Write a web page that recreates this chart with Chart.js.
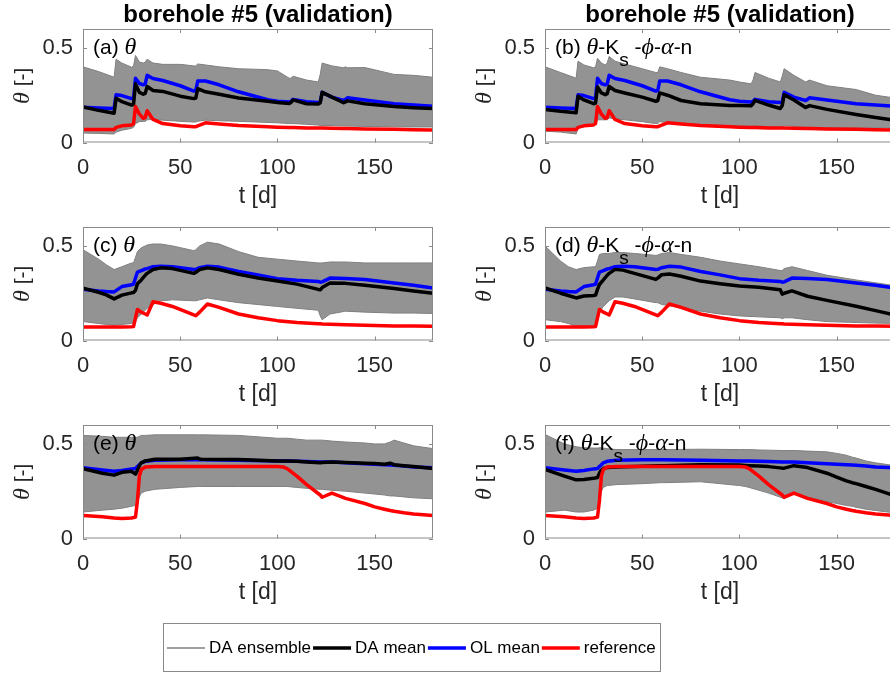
<!DOCTYPE html>
<html>
<head>
<meta charset="utf-8">
<script src="https://cdn.jsdelivr.net/npm/chart.js@4.4.0/dist/chart.umd.min.js"></script>
<style>
  html, body { margin: 0; padding: 0; background: #ffffff; overflow: hidden; }
  #fig { position: relative; width: 890px; height: 673px; overflow: hidden; background: #ffffff; }
  #fig canvas { position: absolute; }
</style>
</head>
<body>
<div id="fig">
  <canvas id="cA" width="445" height="220" style="left:0px;top:0px"></canvas>
  <canvas id="cB" width="460" height="220" style="left:445px;top:0px"></canvas>
  <canvas id="cC" width="445" height="220" style="left:0px;top:198px"></canvas>
  <canvas id="cD" width="460" height="220" style="left:445px;top:198px"></canvas>
  <canvas id="cE" width="445" height="220" style="left:0px;top:396px"></canvas>
  <canvas id="cF" width="460" height="220" style="left:445px;top:396px"></canvas>
  <canvas id="cLeg" width="498" height="49" style="left:163px;top:623px"></canvas>
</div>
<script>
// ---------- time axes (days) ----------
const daysTop = [0, 8, 16, 17, 20, 25, 26, 27, 29, 31, 32, 33, 36, 41, 50, 57, 58, 59, 63, 70, 80, 95, 100, 106, 107, 108, 115, 121, 122, 123, 128, 134, 135, 136, 145, 160, 170, 180];
const daysMid = [0, 8, 12, 16, 20, 25, 26, 27, 28, 30, 32, 33, 36, 40, 46, 57, 58, 60, 64, 70, 80, 90, 100, 110, 121, 122, 123, 127, 135, 145, 160, 170, 180];
const daysLow = [0, 10, 16, 20, 25, 27, 28, 29, 30, 32, 37, 50, 59, 60, 61, 80, 100, 103, 105, 110, 115, 122, 123, 128, 135, 145, 150, 155, 158, 160, 165, 170, 180];

// ---------- tick labels ----------
const xTicks = [0, 50, 100, 150];
const yTicks = [0, 0.5];

// ---------- top row: reference and open-loop mean ----------
const refTop = [0.069, 0.069, 0.069, 0.080, 0.088, 0.093, 0.100, 0.190, 0.150, 0.128, 0.132, 0.168, 0.122, 0.100, 0.088, 0.083, 0.083, 0.088, 0.104, 0.098, 0.090, 0.083, 0.081, 0.079, 0.079, 0.079, 0.077, 0.076, 0.076, 0.076, 0.075, 0.074, 0.074, 0.074, 0.072, 0.070, 0.068, 0.066];
const olTop  = [0.186, 0.183, 0.180, 0.252, 0.248, 0.232, 0.235, 0.340, 0.312, 0.305, 0.310, 0.355, 0.338, 0.328, 0.300, 0.272, 0.275, 0.325, 0.325, 0.305, 0.268, 0.226, 0.218, 0.214, 0.218, 0.228, 0.215, 0.212, 0.215, 0.265, 0.240, 0.222, 0.228, 0.236, 0.225, 0.205, 0.198, 0.192];
// (a) state update
const daA = [0.188, 0.170, 0.155, 0.234, 0.216, 0.198, 0.202, 0.310, 0.265, 0.255, 0.260, 0.296, 0.275, 0.270, 0.245, 0.232, 0.235, 0.285, 0.268, 0.255, 0.235, 0.218, 0.212, 0.206, 0.212, 0.225, 0.205, 0.203, 0.210, 0.265, 0.240, 0.210, 0.215, 0.220, 0.205, 0.190, 0.184, 0.180];
const ensHiA = [0.400, 0.375, 0.345, 0.440, 0.420, 0.398, 0.405, 0.460, 0.425, 0.420, 0.425, 0.440, 0.420, 0.413, 0.413, 0.405, 0.405, 0.415, 0.410, 0.400, 0.390, 0.385, 0.378, 0.340, 0.340, 0.350, 0.330, 0.320, 0.360, 0.420, 0.405, 0.395, 0.400, 0.395, 0.396, 0.360, 0.355, 0.345];
const ensLoA = [0.050, 0.048, 0.045, 0.055, 0.065, 0.075, 0.080, 0.100, 0.110, 0.112, 0.112, 0.120, 0.122, 0.118, 0.112, 0.108, 0.108, 0.112, 0.118, 0.115, 0.112, 0.106, 0.104, 0.100, 0.100, 0.100, 0.096, 0.092, 0.090, 0.090, 0.090, 0.087, 0.087, 0.087, 0.085, 0.083, 0.082, 0.082];
// (b) joint state-parameter update
const daB = [0.175, 0.165, 0.157, 0.244, 0.225, 0.205, 0.208, 0.293, 0.262, 0.253, 0.258, 0.296, 0.275, 0.262, 0.240, 0.218, 0.222, 0.262, 0.250, 0.222, 0.205, 0.196, 0.196, 0.194, 0.205, 0.223, 0.198, 0.180, 0.195, 0.253, 0.225, 0.185, 0.190, 0.195, 0.175, 0.148, 0.132, 0.118];
const ensHiB = [0.400, 0.370, 0.340, 0.430, 0.410, 0.395, 0.400, 0.445, 0.420, 0.410, 0.420, 0.455, 0.430, 0.415, 0.390, 0.370, 0.370, 0.400, 0.390, 0.370, 0.345, 0.330, 0.320, 0.310, 0.330, 0.370, 0.340, 0.320, 0.350, 0.390, 0.355, 0.320, 0.325, 0.330, 0.300, 0.280, 0.250, 0.235];
const ensLoB = [0.060, 0.055, 0.045, 0.075, 0.085, 0.090, 0.095, 0.120, 0.120, 0.120, 0.120, 0.130, 0.125, 0.120, 0.110, 0.100, 0.100, 0.110, 0.105, 0.100, 0.095, 0.090, 0.088, 0.085, 0.086, 0.090, 0.085, 0.082, 0.083, 0.090, 0.085, 0.080, 0.080, 0.080, 0.079, 0.078, 0.077, 0.076];

// ---------- middle row ----------
const refMid = [0.072, 0.072, 0.072, 0.072, 0.072, 0.073, 0.074, 0.120, 0.164, 0.150, 0.140, 0.135, 0.205, 0.197, 0.180, 0.135, 0.131, 0.150, 0.193, 0.175, 0.140, 0.120, 0.105, 0.095, 0.088, 0.088, 0.087, 0.086, 0.083, 0.080, 0.077, 0.076, 0.075];
const olMid  = [0.271, 0.262, 0.259, 0.257, 0.285, 0.295, 0.298, 0.330, 0.362, 0.370, 0.378, 0.380, 0.390, 0.392, 0.390, 0.375, 0.376, 0.385, 0.392, 0.388, 0.365, 0.347, 0.327, 0.318, 0.312, 0.308, 0.310, 0.330, 0.328, 0.322, 0.304, 0.292, 0.277];
// (c)
const daC = [0.277, 0.255, 0.241, 0.220, 0.240, 0.252, 0.254, 0.265, 0.300, 0.320, 0.345, 0.355, 0.375, 0.384, 0.380, 0.355, 0.360, 0.375, 0.384, 0.375, 0.350, 0.330, 0.315, 0.298, 0.270, 0.268, 0.280, 0.304, 0.302, 0.292, 0.275, 0.262, 0.250];
const ensHiC = [0.480, 0.430, 0.400, 0.375, 0.390, 0.410, 0.410, 0.440, 0.470, 0.490, 0.500, 0.505, 0.510, 0.510, 0.500, 0.475, 0.480, 0.500, 0.520, 0.510, 0.470, 0.440, 0.430, 0.420, 0.410, 0.410, 0.410, 0.415, 0.415, 0.410, 0.410, 0.410, 0.410];
const ensLoC = [0.100, 0.090, 0.085, 0.080, 0.085, 0.090, 0.095, 0.100, 0.120, 0.140, 0.160, 0.170, 0.190, 0.210, 0.215, 0.210, 0.210, 0.215, 0.225, 0.215, 0.200, 0.190, 0.180, 0.170, 0.160, 0.130, 0.110, 0.140, 0.155, 0.150, 0.145, 0.145, 0.143];
// (d)
const daD = [0.278, 0.250, 0.238, 0.225, 0.235, 0.238, 0.240, 0.270, 0.296, 0.320, 0.345, 0.355, 0.376, 0.372, 0.355, 0.323, 0.330, 0.348, 0.352, 0.340, 0.314, 0.300, 0.288, 0.282, 0.268, 0.245, 0.250, 0.262, 0.234, 0.212, 0.181, 0.158, 0.135];
const ensHiD = [0.500, 0.420, 0.390, 0.375, 0.385, 0.390, 0.390, 0.420, 0.455, 0.460, 0.460, 0.460, 0.465, 0.465, 0.460, 0.450, 0.452, 0.460, 0.465, 0.455, 0.440, 0.420, 0.405, 0.390, 0.370, 0.370, 0.380, 0.390, 0.370, 0.345, 0.320, 0.305, 0.290];
const ensLoD = [0.110, 0.100, 0.090, 0.075, 0.070, 0.072, 0.075, 0.100, 0.150, 0.180, 0.200, 0.210, 0.230, 0.230, 0.220, 0.200, 0.200, 0.190, 0.185, 0.170, 0.155, 0.140, 0.130, 0.125, 0.120, 0.115, 0.120, 0.120, 0.110, 0.100, 0.095, 0.092, 0.090];

// ---------- bottom row ----------
const refLow = [0.122, 0.115, 0.108, 0.106, 0.108, 0.113, 0.200, 0.330, 0.365, 0.378, 0.380, 0.380, 0.380, 0.380, 0.380, 0.380, 0.380, 0.378, 0.370, 0.330, 0.285, 0.230, 0.218, 0.240, 0.212, 0.185, 0.167, 0.155, 0.148, 0.144, 0.136, 0.130, 0.122];
const olLow  = [0.374, 0.362, 0.356, 0.360, 0.368, 0.370, 0.380, 0.390, 0.400, 0.408, 0.414, 0.416, 0.416, 0.416, 0.416, 0.414, 0.410, 0.410, 0.410, 0.408, 0.407, 0.405, 0.405, 0.404, 0.400, 0.395, 0.393, 0.390, 0.388, 0.387, 0.383, 0.378, 0.374];
// (e)
const daE = [0.369, 0.345, 0.335, 0.350, 0.355, 0.340, 0.360, 0.385, 0.400, 0.410, 0.419, 0.419, 0.425, 0.420, 0.419, 0.418, 0.410, 0.410, 0.410, 0.408, 0.405, 0.400, 0.402, 0.405, 0.402, 0.398, 0.396, 0.393, 0.398, 0.390, 0.385, 0.380, 0.370];
const ensHiE = [0.545, 0.540, 0.535, 0.535, 0.535, 0.535, 0.535, 0.540, 0.545, 0.545, 0.548, 0.548, 0.548, 0.548, 0.548, 0.545, 0.530, 0.530, 0.530, 0.525, 0.520, 0.520, 0.520, 0.515, 0.510, 0.505, 0.500, 0.500, 0.510, 0.520, 0.505, 0.490, 0.475];
const ensLoE = [0.140, 0.150, 0.155, 0.160, 0.170, 0.175, 0.190, 0.220, 0.240, 0.250, 0.260, 0.270, 0.275, 0.275, 0.275, 0.275, 0.275, 0.275, 0.275, 0.270, 0.265, 0.260, 0.260, 0.255, 0.250, 0.240, 0.235, 0.230, 0.225, 0.225, 0.220, 0.215, 0.210];
// (f)
const daF = [0.365, 0.330, 0.310, 0.312, 0.318, 0.322, 0.345, 0.362, 0.370, 0.375, 0.378, 0.382, 0.385, 0.385, 0.385, 0.390, 0.388, 0.386, 0.385, 0.383, 0.380, 0.372, 0.372, 0.385, 0.375, 0.345, 0.325, 0.305, 0.295, 0.290, 0.275, 0.260, 0.225];
const ensHiF = [0.550, 0.500, 0.485, 0.480, 0.478, 0.478, 0.480, 0.480, 0.478, 0.475, 0.470, 0.470, 0.470, 0.470, 0.470, 0.472, 0.470, 0.470, 0.470, 0.468, 0.467, 0.465, 0.465, 0.465, 0.462, 0.458, 0.450, 0.440, 0.430, 0.425, 0.410, 0.400, 0.385];
const ensLoF = [0.140, 0.150, 0.140, 0.140, 0.150, 0.160, 0.200, 0.250, 0.270, 0.280, 0.285, 0.290, 0.295, 0.295, 0.295, 0.300, 0.280, 0.275, 0.270, 0.255, 0.240, 0.215, 0.210, 0.235, 0.220, 0.195, 0.185, 0.175, 0.170, 0.165, 0.155, 0.148, 0.135];

// ---------- texts ----------
const columnTitle = 'borehole #5 (validation)';
const seriesNames = ['DA ensemble', 'DA mean', 'OL mean', 'reference'];
const tagA = [['(a) ', 'rm'], ['θ', 'it']];
const tagB = [['(b) ', 'rm'], ['θ', 'it'], ['-K', 'rm'], ['s', 'sub'], [' -', 'rm'], ['ϕ', 'it'], ['-', 'rm'], ['α', 'it'], ['-n', 'rm']];
const tagC = [['(c) ', 'rm'], ['θ', 'it']];
const tagD = [['(d) ', 'rm'], ['θ', 'it'], ['-K', 'rm'], ['s', 'sub'], [' -', 'rm'], ['ϕ', 'it'], ['-', 'rm'], ['α', 'it'], ['-n', 'rm']];
const tagE = [['(e) ', 'rm'], ['θ', 'it']];
const tagF = [['(f) ', 'rm'], ['θ', 'it'], ['-K', 'rm'], ['s', 'sub'], [' -', 'rm'], ['ϕ', 'it'], ['-', 'rm'], ['α', 'it'], ['-n', 'rm']];
const yTitle = [['θ', 'it'], [' [-]', 'rm']];

// ---------- styling ----------
const SANS = '"Liberation Sans", Arial, Helvetica, sans-serif';
const SERIF = '"Liberation Serif", "Times New Roman", serif';
const INK = '#262626';
const AXIS = '#8a8a8a';
const COL = { ens: '#808080', da: '#000000', ol: '#0000ff', ref: '#ff0000' };
const FONTS = { rm: '21px ' + SANS, it: 'italic 24px ' + SERIF, sub: '19px ' + SANS };

function drawParts(ctx, parts, x, y) {
  for (const [txt, kind] of parts) {
    ctx.font = FONTS[kind];
    ctx.fillText(txt, x, y + (kind === 'sub' ? 12 : 0));
    x += ctx.measureText(txt).width;
  }
}
function partsWidth(ctx, parts) {
  let w = 0;
  for (const [txt, kind] of parts) { ctx.font = FONTS[kind]; w += ctx.measureText(txt).width; }
  return w;
}

// axes box, inward tick marks, panel tag and rotated y label
const panelDeco = {
  id: 'panelDeco',
  afterDatasetsDraw(chart, args, o) {
    const { ctx, chartArea: a, scales: { x, y } } = chart;
    ctx.save();
    ctx.fillStyle = '#000';
    ctx.textBaseline = 'alphabetic';
    ctx.textAlign = 'left';
    drawParts(ctx, o.tag, a.left + 10, a.top + 24.5);

    ctx.strokeStyle = AXIS;
    ctx.lineWidth = 1;
    ctx.strokeRect(a.left + 0.5, a.top + 0.5, a.width - 1, a.height - 1);
    ctx.beginPath();
    xTicks.forEach(v => {
      const px = Math.round(x.getPixelForValue(v)) + 0.5;
      ctx.moveTo(px, a.bottom); ctx.lineTo(px, a.bottom - 4);
      ctx.moveTo(px, a.top); ctx.lineTo(px, a.top + 4);
    });
    yTicks.forEach(v => {
      const py = Math.round(y.getPixelForValue(v)) + 0.5;
      ctx.moveTo(a.left, py); ctx.lineTo(a.left + 4, py);
      ctx.moveTo(a.right, py); ctx.lineTo(a.right - 4, py);
    });
    ctx.stroke();
    ctx.restore();
  },
  afterDraw(chart) {
    const { ctx, chartArea: a } = chart;
    ctx.save();
    ctx.translate(a.left - 62, (a.top + a.bottom) / 2);
    ctx.rotate(-Math.PI / 2);
    ctx.fillStyle = INK;
    ctx.textBaseline = 'alphabetic';
    ctx.textAlign = 'left';
    const w = partsWidth(ctx, yTitle);
    drawParts(ctx, yTitle, -w / 2, 7.5);
    ctx.restore();
  }
};

function pts(t, v) { return t.map((d, i) => ({ x: d, y: v[i] })); }

function makePanel(id, cfg) {
  const right = cfg.col === 1;
  const canvas = document.getElementById(id);
  const tickFont = { family: SANS, size: 22 };
  return new Chart(canvas, {
    type: 'line',
    data: {
      datasets: [
        { label: seriesNames[3], data: pts(cfg.t, cfg.ref), borderColor: COL.ref, borderWidth: 3.5, order: 1 },
        { label: seriesNames[1], data: pts(cfg.t, cfg.da), borderColor: COL.da, borderWidth: 3.5, order: 2 },
        { label: seriesNames[2], data: pts(cfg.t, cfg.ol), borderColor: COL.ol, borderWidth: 3.5, order: 3 },
        { label: seriesNames[0], data: pts(cfg.t, cfg.hi), borderColor: COL.ens, borderWidth: 1, fill: '+1',
          backgroundColor: 'rgba(128,128,128,0.85)', order: 4 },
        { label: seriesNames[0], data: pts(cfg.t, cfg.lo), borderColor: COL.ens, borderWidth: 1, order: 5 }
      ]
    },
    plugins: [panelDeco],
    options: {
      responsive: false,
      animation: false,
      devicePixelRatio: 1,
      events: [],
      layout: { padding: { top: cfg.title ? 0 : 29, left: 0, right: right ? 10 : 12, bottom: 0 } },
      elements: {
        line: { tension: 0, borderJoinStyle: 'round', borderCapStyle: 'round' },
        point: { radius: 0 }
      },
      plugins: {
        legend: { display: false },
        tooltip: { enabled: false },
        title: cfg.title ? {
          display: true, text: cfg.title, color: '#000', fullSize: false,
          font: { family: SANS, size: 24, weight: 'bold', lineHeight: 1.1 },
          padding: { top: 2.6, bottom: 0 }
        } : { display: false },
        panelDeco: { tag: cfg.tag }
      },
      scales: {
        x: {
          type: 'linear', min: 0, max: 180,
          afterBuildTicks: s => { s.ticks = xTicks.map(v => ({ value: v })); },
          afterFit: s => { s.height = 77.5; },
          ticks: { color: INK, font: tickFont, padding: 12, maxRotation: 0, autoSkip: false, callback: v => String(v) },
          grid: { display: false, drawTicks: false },
          border: { display: false },
          title: { display: true, text: 't [d]', color: INK, font: { family: SANS, size: 23, lineHeight: 1 }, padding: { top: 0, bottom: 11.5 } }
        },
        y: {
          type: 'linear', min: 0, max: 0.6,
          afterBuildTicks: s => { s.ticks = yTicks.map(v => ({ value: v })); },
          afterFit: s => { s.width = right ? 100 : 83; },
          ticks: { color: INK, font: tickFont, padding: 10, autoSkip: false, callback: v => String(v) },
          grid: { display: false, drawTicks: false },
          border: { display: false }
        }
      }
    }
  });
}

makePanel('cA', { col: 0, title: columnTitle, tag: tagA, t: daysTop, ref: refTop, ol: olTop, da: daA, hi: ensHiA, lo: ensLoA });
makePanel('cB', { col: 1, title: columnTitle, tag: tagB, t: daysTop, ref: refTop, ol: olTop, da: daB, hi: ensHiB, lo: ensLoB });
makePanel('cC', { col: 0, tag: tagC, t: daysMid, ref: refMid, ol: olMid, da: daC, hi: ensHiC, lo: ensLoC });
makePanel('cD', { col: 1, tag: tagD, t: daysMid, ref: refMid, ol: olMid, da: daD, hi: ensHiD, lo: ensLoD });
makePanel('cE', { col: 0, tag: tagE, t: daysLow, ref: refLow, ol: olLow, da: daE, hi: ensHiE, lo: ensLoE });
makePanel('cF', { col: 1, tag: tagF, t: daysLow, ref: refLow, ol: olLow, da: daF, hi: ensHiF, lo: ensLoF });

// shared legend below the panels
const legendBox = {
  id: 'legendBox',
  afterDraw(chart) {
    const ctx = chart.ctx;
    const W = chart.width, H = chart.height;
    ctx.save();
    ctx.strokeStyle = AXIS;
    ctx.lineWidth = 1;
    ctx.strokeRect(0.5, 0.5, W - 1, H - 1);
    ctx.font = '17px ' + SANS;
    ctx.textBaseline = 'middle';
    ctx.textAlign = 'left';
    let x = 4;
    const y = 25;
    chart.data.datasets.forEach(ds => {
      ctx.strokeStyle = ds.borderColor;
      ctx.lineWidth = ds.borderWidth;
      ctx.beginPath();
      ctx.moveTo(x, y);
      ctx.lineTo(x + 38, y);
      ctx.stroke();
      x += 42;
      ctx.fillStyle = '#000';
      ctx.fillText(ds.label, x, y);
      x += ctx.measureText(ds.label).width + 2;
    });
    ctx.restore();
  }
};
new Chart(document.getElementById('cLeg'), {
  type: 'line',
  data: {
    datasets: [
      { label: seriesNames[0], data: [], borderColor: COL.ens, borderWidth: 1.5 },
      { label: seriesNames[1], data: [], borderColor: COL.da, borderWidth: 3.5 },
      { label: seriesNames[2], data: [], borderColor: COL.ol, borderWidth: 3.5 },
      { label: seriesNames[3], data: [], borderColor: COL.ref, borderWidth: 3.5 }
    ]
  },
  plugins: [legendBox],
  options: {
    responsive: false, animation: false, devicePixelRatio: 1, events: [],
    plugins: { legend: { display: false }, tooltip: { enabled: false } },
    scales: { x: { display: false }, y: { display: false } }
  }
});
</script>
</body>
</html>
